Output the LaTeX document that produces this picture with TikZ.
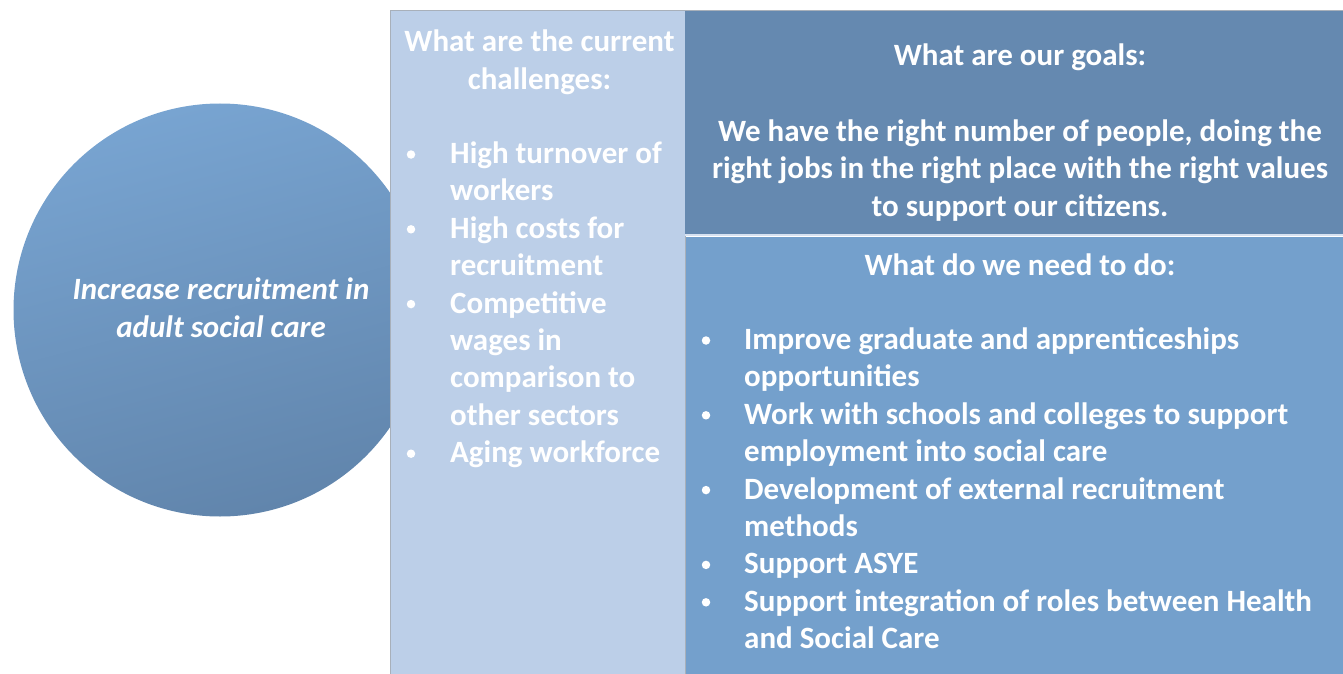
\documentclass[tikz,border=0pt]{standalone}
\usepackage{fontspec}
\setmainfont{Carlito}
\usetikzlibrary{positioning}

\definecolor{chalblue}{RGB}{188,207,232}
\definecolor{goalblue}{RGB}{101,137,176}
\definecolor{needblue}{RGB}{116,160,204}
\definecolor{circtop}{RGB}{120,164,209}
\definecolor{circbot}{RGB}{97,133,172}
\definecolor{edgegray}{RGB}{168,176,186}

\tikzset{
  txt/.style={text=white, inner sep=0pt, font=\fontsize{31}{37.5}\selectfont\bfseries},
  line/.style={txt, anchor=base west},
  head/.style={txt, anchor=base},
  dot/.style={circle, fill=white, inner sep=0pt, minimum size=8.5pt},
}

\begin{document}
\begin{tikzpicture}[x=1pt, y=-1pt]
\useasboundingbox (0,0) rectangle (1343,674);

% Aim circle (partly hidden behind the challenges column)
\shade[top color=circtop, bottom color=circbot, shading angle=15] (220,310) circle (206.5);
\node[txt, font=\fontsize{31}{37.5}\selectfont\bfseries\itshape, anchor=base] (aim1) at (221,299) {Increase recruitment in};
\node[txt, font=\fontsize{31}{37.5}\selectfont\bfseries\itshape, anchor=base] (aim2) at (221,337) {adult social care};

% Boxes
\fill[chalblue] (390,11) rectangle (685,674);
\draw[edgegray, line width=1pt] (390,674) -- (390,11) -- (685,11);
\fill[goalblue] (685,11) rectangle (1343,234);
\draw[edgegray, line width=1pt] (685,11) -- (1343,11);
\fill[needblue] (685,236.5) rectangle (1343,674);
\draw[chalblue!60!white, line width=2pt] (685,235) -- (1343,235);
\draw[edgegray, line width=1pt] (685.5,236) -- (685.5,674);

% Challenges
\node[head] (chalT1) at (539.5,51.7) {What are the current};
\node[head] (chalT2) at (539.5,89.3) {challenges:};
\foreach \t [count=\i] in {High turnover of, workers, High costs for, recruitment,
    Competitive, wages in, comparison to, other sectors, Aging workforce}
  \node[line] (chal\i) at (450,{163.5+37.4*(\i-1)}) {\t};
\foreach \i in {1,3,5,9}
  \node[dot] (chalb\i) at (411,{163.5+37.4*(\i-1)-9}) {};

% Goals
\node[head] (goalT) at (1020,66) {What are our goals:};
\node[head] (goal1) at (1020,141) {We have the right number of people, doing the};
\node[head] (goal2) at (1020,178.5) {right jobs in the right place with the right values};
\node[head] (goal3) at (1020,216) {to support our citizens.};

% Actions
\node[head] (needT) at (1020,275) {What do we need to do:};
\foreach \t [count=\i] in {Improve graduate and apprenticeships, opportunities,
    Work with schools and colleges to support, employment into social care,
    Development of external recruitment, methods, Support ASYE,
    Support integration of roles between Health, and Social Care}
  \node[line] (need\i) at (744,{349.5+37.4*(\i-1)}) {\t};
\foreach \i in {1,3,5,7,8}
  \node[dot] (needb\i) at (706,{349.5+37.4*(\i-1)-9}) {};

\end{tikzpicture}
\end{document}
